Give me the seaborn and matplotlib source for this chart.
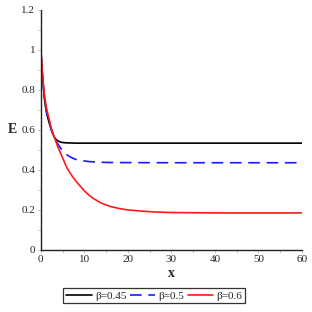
import matplotlib
matplotlib.use("Agg")
import matplotlib.pyplot as plt
import seaborn as sns
from matplotlib.ticker import MultipleLocator

# values
x_045 = [0, 0.4, 0.8, 1.2, 1.6, 2, 2.5, 3.1, 3.6, 4.2, 4.7, 5.5, 6.5, 8, 15, 30, 60]
e_045 = [1.0, 0.86, 0.76, 0.70, 0.66, 0.63, 0.595, 0.563, 0.55, 0.542, 0.538, 0.536,
         0.535, 0.534, 0.534, 0.534, 0.534]

x_05 = [0, 0.4, 0.8, 1.2, 1.6, 2, 2.5, 3.1, 3.6, 4.2, 5, 6, 7, 8, 9.3, 11, 13, 16, 30, 60]
e_05 = [1.0, 0.86, 0.76, 0.70, 0.66, 0.63, 0.595, 0.56, 0.54, 0.52, 0.495, 0.475,
        0.462, 0.453, 0.447, 0.442, 0.439, 0.437, 0.436, 0.436]

x_06 = [0, 0.4, 0.8, 1.2, 1.6, 2, 2.5, 3.1, 4, 5, 6, 7, 8, 9, 10, 11, 12, 14, 16, 18,
        20, 23, 26, 30, 40, 60]
e_06 = [1.0, 0.87, 0.78, 0.72, 0.68, 0.645, 0.60, 0.563, 0.51, 0.46, 0.41, 0.375,
        0.345, 0.32, 0.295, 0.275, 0.258, 0.233, 0.217, 0.207, 0.20, 0.194, 0.19,
        0.187, 0.185, 0.185]

labels = ["β=0.45", "β=0.5", "β=0.6"]

sns.set_style("ticks")
plt.rcParams["font.family"] = ["Liberation Serif", "DejaVu Serif"]

fig = plt.figure(figsize=(3.12, 3.12), dpi=100)
ax = fig.add_axes([0.131, 0.199, 0.837, 0.769])

sns.lineplot(x=x_045, y=e_045, ax=ax, color="black", lw=1.2, label=labels[0])
sns.lineplot(x=x_05, y=e_05, ax=ax, color="#1a1aff", lw=1.2, label=labels[1])
sns.lineplot(x=x_06, y=e_06, ax=ax, color="#ff1a1a", lw=1.2, label=labels[2])
ax.lines[1].set_dashes([7, 4])

ax.set_xlim(0, 60)
ax.set_ylim(0, 1.2)
ax.xaxis.set_major_locator(MultipleLocator(10))
ax.xaxis.set_minor_locator(MultipleLocator(5))
ax.yaxis.set_major_locator(MultipleLocator(0.2))
ax.yaxis.set_minor_locator(MultipleLocator(0.1))
ax.yaxis.set_major_formatter(plt.FuncFormatter(lambda v, p: f"{v:g}"))
ax.tick_params(which="both", labelsize=8, color="#bbbbbb", length=2, width=0.6, pad=2)
sns.despine(ax=ax)
for s in ["left", "bottom"]:
    ax.spines[s].set_linewidth(1.0)
    ax.spines[s].set_color("#222222")

ax.set_xlabel("x", fontsize=10, fontweight="bold", labelpad=2)
ax.set_ylabel("E", fontsize=10, fontweight="bold", rotation=0, va="center")
ax.yaxis.set_label_coords(-0.11, 0.5)

ax.get_legend().remove()
handles, lbls = ax.get_legend_handles_labels()
handles[1].set_dashes([7, 4])
leg = fig.legend(handles, lbls, loc="center", bbox_to_anchor=(0.494, 0.052), ncol=3,
                 fontsize=8, frameon=True, fancybox=False, edgecolor="black",
                 handlelength=2.3, handletextpad=0.3, columnspacing=0.3,
                 borderpad=0.25, borderaxespad=0)
leg.get_frame().set_linewidth(0.9)

fig.savefig("out.png", dpi=100)
